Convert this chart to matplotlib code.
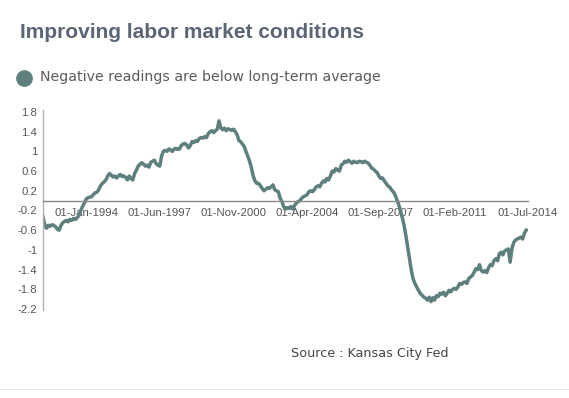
import numpy as np
import pandas as pd
import matplotlib

matplotlib.use("Agg")
import matplotlib.pyplot as plt
import matplotlib.dates as mdates
from matplotlib.lines import Line2D

# ---------------------------------------------------------------------------
# Data: monthly Labor Market Conditions Index (Kansas City Fed)
# ---------------------------------------------------------------------------
START = "1992-01-01"

LMCI = [
    # 1992
    -0.33, -0.50, -0.56, -0.50, -0.52, -0.49, -0.50, -0.53, -0.58, -0.60, -0.50, -0.45,
    # 1993
    -0.42, -0.40, -0.43, -0.38, -0.40, -0.36, -0.38, -0.35, -0.30, -0.20, -0.12, -0.05,
    # 1994
    0.03, 0.06, 0.07, 0.08, 0.12, 0.16, 0.17, 0.22, 0.30, 0.35, 0.38, 0.42,
    # 1995
    0.50, 0.55, 0.52, 0.48, 0.50, 0.46, 0.50, 0.53, 0.49, 0.50, 0.47, 0.42,
    # 1996
    0.50, 0.45, 0.42, 0.55, 0.62, 0.70, 0.74, 0.77, 0.74, 0.70, 0.72, 0.68,
    # 1997
    0.78, 0.80, 0.82, 0.75, 0.72, 0.70, 0.90, 1.00, 1.02, 1.00, 1.05, 1.03,
    # 1998
    1.00, 1.05, 1.06, 1.04, 1.05, 1.12, 1.15, 1.16, 1.13, 1.07, 1.12, 1.20,
    # 1999
    1.18, 1.22, 1.20, 1.26, 1.28, 1.27, 1.30, 1.28, 1.36, 1.40, 1.42, 1.38,
    # 2000
    1.42, 1.45, 1.62, 1.48, 1.44, 1.47, 1.42, 1.46, 1.44, 1.43, 1.45, 1.40,
    # 2001
    1.34, 1.22, 1.20, 1.15, 1.10, 1.00, 0.90, 0.80, 0.67, 0.50, 0.40, 0.35,
    # 2002
    0.35, 0.30, 0.25, 0.20, 0.23, 0.26, 0.25, 0.28, 0.32, 0.22, 0.20, 0.18,
    # 2003
    0.05, -0.02, -0.12, -0.17, -0.14, -0.16, -0.12, -0.17, -0.10, -0.05, -0.02, 0.00,
    # 2004
    0.05, 0.08, 0.10, 0.12, 0.18, 0.20, 0.18, 0.22, 0.28, 0.30, 0.28, 0.35,
    # 2005
    0.40, 0.38, 0.45, 0.42, 0.50, 0.60, 0.58, 0.65, 0.62, 0.60, 0.72, 0.75,
    # 2006
    0.80, 0.78, 0.82, 0.79, 0.76, 0.80, 0.78, 0.77, 0.80, 0.79, 0.77, 0.80,
    # 2007
    0.78, 0.76, 0.72, 0.66, 0.64, 0.60, 0.57, 0.50, 0.45, 0.46, 0.40, 0.35,
    # 2008
    0.30, 0.27, 0.22, 0.18, 0.12, 0.02, -0.08, -0.20, -0.35, -0.50, -0.72, -0.95,
    # 2009
    -1.20, -1.42, -1.58, -1.68, -1.75, -1.82, -1.88, -1.92, -1.96, -1.98, -2.02, -1.96,
    # 2010
    -2.05, -1.97, -2.02, -1.93, -1.95, -1.88, -1.90, -1.86, -1.93, -1.88, -1.82, -1.85,
    # 2011
    -1.80, -1.78, -1.80, -1.75, -1.68, -1.70, -1.66, -1.65, -1.68, -1.58, -1.55, -1.52,
    # 2012
    -1.45, -1.38, -1.40, -1.30, -1.42, -1.45, -1.42, -1.46, -1.36, -1.30, -1.32, -1.22,
    # 2013
    -1.18, -1.22, -1.08, -1.05, -1.10, -1.02, -1.00, -0.98, -1.25, -0.98, -0.85, -0.80,
    # 2014
    -0.78, -0.76, -0.74, -0.78, -0.66, -0.60,
]

X_TICKS = ["1994-01-01", "1997-06-01", "2000-11-01", "2004-04-01",
           "2007-09-01", "2011-02-01", "2014-07-01"]
Y_TICKS = [1.8, 1.4, 1.0, 0.6, 0.2, -0.2, -0.6, -1.0, -1.4, -1.8, -2.2]

TITLE = "Improving labor market conditions"
LEGEND = "Negative readings are below long-term average"
SOURCE = "Source : Kansas City Fed"

LINE_COLOR = "#5d807e"

dates = pd.date_range(START, periods=len(LMCI), freq="MS")

# ---- figure ----
fig = plt.figure(figsize=(5.69, 3.98), dpi=100)
ax = fig.add_axes([43 / 569, 1 - 310 / 398, (528 - 43) / 569, 200 / 398])

ax.plot(dates, LMCI, color=LINE_COLOR, linewidth=2.5, solid_joinstyle="round")

ax.set_xlim(pd.Timestamp("1992-01-01"), pd.Timestamp("2014-07-01"))
ax.set_ylim(-2.22, 1.84)

ax.set_xticks(pd.to_datetime(X_TICKS))
ax.xaxis.set_major_formatter(mdates.DateFormatter("%d-%b-%Y"))
ax.set_yticks(Y_TICKS)
ax.set_yticklabels([f"{round(v, 1):g}" for v in Y_TICKS])

for side in ("top", "right"):
    ax.spines[side].set_visible(False)
ax.spines["bottom"].set_position(("data", 0))
ax.spines["bottom"].set_color("#8a8a8a")
ax.spines["bottom"].set_linewidth(1.0)
ax.spines["left"].set_color("#b0b0b0")
ax.spines["left"].set_linewidth(1.0)

ax.tick_params(axis="both", length=0, labelsize=8.2, labelcolor="#555555")
ax.tick_params(axis="x", pad=5)
ax.tick_params(axis="y", pad=4)
for lab in ax.get_xticklabels() + ax.get_yticklabels():
    lab.set_fontfamily("Liberation Sans")

# ---- header / footer ----
fig.text(20 / 569, 1 - 32 / 398, TITLE, fontsize=15, fontweight="bold",
         color="#5b6575", family="Liberation Sans", va="center", ha="left")

fig.add_artist(Line2D([24 / 569], [1 - 78 / 398], marker="o", markersize=11,
                      color=LINE_COLOR, linestyle="none", transform=fig.transFigure))
fig.text(40 / 569, 1 - 77 / 398, LEGEND, fontsize=10.2, color="#5a5a5a",
         family="DejaVu Sans", va="center", ha="left")

fig.text(291 / 569, 1 - 354 / 398, SOURCE, fontsize=9.2, color="#444444",
         family="DejaVu Sans", va="center", ha="left")

fig.add_artist(Line2D([0, 1], [1 - 389 / 398] * 2, color="#e6e6e6",
                      linewidth=0.8, transform=fig.transFigure))

fig.savefig("out.png", dpi=100)
plt.close(fig)
